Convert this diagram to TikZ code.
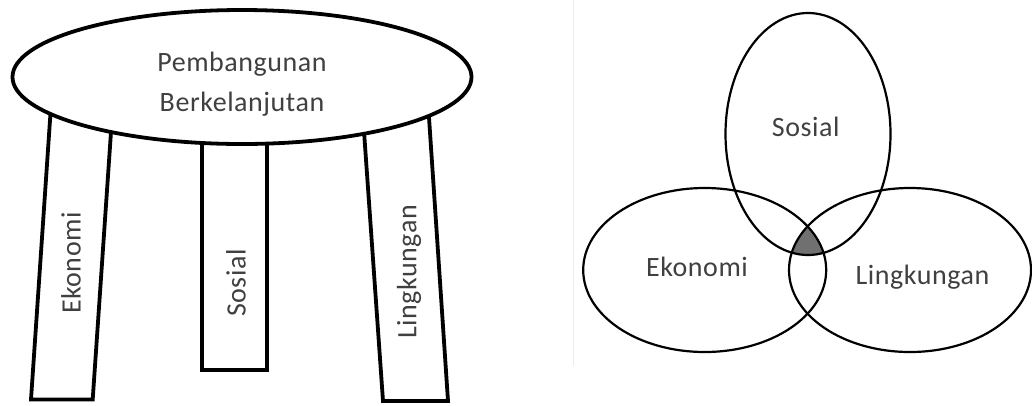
\documentclass[tikz,border=0pt]{standalone}
\usepackage{fontspec}
\setmainfont[LetterSpace=2]{Carlito}
\usetikzlibrary{shapes.geometric}
\definecolor{inktext}{RGB}{64,64,64}
\definecolor{coreshade}{RGB}{112,112,112}
\definecolor{edgefaint}{RGB}{238,238,238}
\tikzset{
  heavy/.style={line width=3.8pt, line join=miter},
  legbox/.style={heavy, draw=black, fill=white},
  lbl/.style={text=inktext, font=\fontsize{28}{40}\selectfont, inner sep=0pt},
  venn/.style={ellipse, draw=black, line width=2.2pt, inner sep=0pt},
}
\begin{document}
\begin{tikzpicture}[x=1pt,y=-1pt]
\useasboundingbox (0,0) rectangle (1032,405);

% ---- stool: three legs under a round top ----
\draw[legbox] (50.7,110) -- (112.5,110) -- (92.7,399.5) -- (31,399.5) -- cycle;
\draw[legbox] (202,130) -- (267,130) -- (267,370) -- (202,370) -- cycle;
\draw[legbox] (362.5,110) -- (428.5,110) -- (448,401) -- (383,401) -- cycle;

\node[ellipse, draw=black, fill=white, line width=3.8pt, inner sep=0pt,
      minimum width=459pt, minimum height=134pt] (top) at (242,77) {};
\node[lbl, anchor=base] (toptextA) at (242,71.5) {Pembangunan};
\node[lbl, anchor=base] (toptextB) at (242,111) {Berkelanjutan};

\node[lbl, rotate=90] (legA) at (71,263) {Ekonomi};
\node[lbl, rotate=90] (legB) at (236,283) {Sosial};
\node[lbl, rotate=90] (legC) at (409,272) {Lingkungan};

% faint page edge
\draw[edgefaint, line width=0.8pt] (573.5,0) -- (573.5,366);

% ---- three overlapping pillars ----
\begin{scope}
  \clip (808,134) ellipse [x radius=82.5pt, y radius=121pt];
  \clip (704.7,270) ellipse [x radius=121.5pt, y radius=82pt];
  \fill[coreshade] (910,270) ellipse [x radius=121pt, y radius=82pt];
\end{scope}

\node[venn, minimum width=165pt, minimum height=242pt] (soc) at (808,134) {};
\node[venn, minimum width=243pt, minimum height=164pt] (eco) at (704.7,270) {};
\node[venn, minimum width=242pt, minimum height=164pt] (env) at (910,270) {};

\node[lbl, anchor=base] (socl) at (805.8,136.5) {Sosial};
\node[lbl, anchor=base] (ecol) at (697,276.5) {Ekonomi};
\node[lbl, anchor=base] (envl) at (922.5,284.5) {Lingkungan};
\end{tikzpicture}
\end{document}
